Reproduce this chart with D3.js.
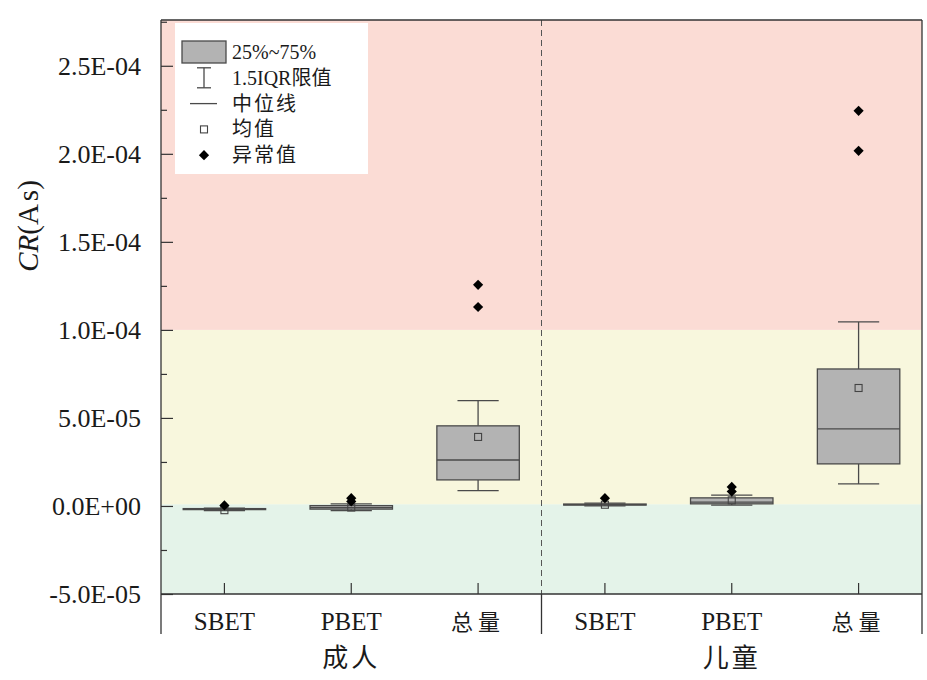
<!DOCTYPE html>
<html>
<head>
<meta charset="utf-8">
<script src="https://cdn.jsdelivr.net/npm/d3@7"></script>
<style>
  body { margin: 0; background: #fff; }
  svg text { fill: #1a1a1a; }
</style>
</head>
<body>
<svg id="chart" width="927" height="680"></svg>
<script>
// ---- data ----------------------------------------------------------------
const groups = ["成人", "儿童"];
const methods = ["SBET", "PBET", "总量"];

// one entry per box, order: 成人 SBET, PBET, 总量, 儿童 SBET, PBET, 总量
const whiskerLow  = [-2.6e-6, -2.6e-6, 8.7e-6,  0.1e-6, 0.5e-6, 1.25e-5];
const q1          = [-1.9e-6, -1.8e-6, 1.48e-5, 0.5e-6, 1.2e-6, 2.39e-5];
const median      = [-1.7e-6, -1.0e-6, 2.61e-5, 0.8e-6, 2.2e-6, 4.38e-5];
const q3          = [-1.5e-6,  0.2e-6, 4.55e-5, 1.1e-6, 4.6e-6, 7.78e-5];
const whiskerHigh = [-1.2e-6,  1.2e-6, 5.98e-5, 1.6e-6, 6.2e-6, 1.045e-4];
const mean        = [-2.4e-6, -0.9e-6, 3.92e-5, 0.7e-6, 3.2e-6, 6.70e-5];
const outliers    = [[0.3e-6], [2.6e-6, 4.4e-6], [1.13e-4, 1.256e-4],
                     [4.4e-6], [8.2e-6, 1.08e-5], [2.017e-4, 2.244e-4]];

// carcinogenic risk thresholds separating the shaded zones
const riskLevels = [1e-6, 1e-4];
const yTicks = [-5e-5, 0, 5e-5, 1e-4, 1.5e-4, 2e-4, 2.5e-4];
const yMax = 2.76e-4;

const legendLabels = ["25%~75%", "1.5IQR限值", "中位线", "均值", "异常值"];

// ---- layout --------------------------------------------------------------
const svg = d3.select("#chart");
const plotLeft = 161, plotRight = 922, plotTop = 20, plotBottom = 594, labelBottom = 634;
const serif = "'Liberation Serif','Times New Roman','DejaVu Serif',serif";
const cjk = "'Noto Sans CJK SC','Noto Sans CJK JP',sans-serif";
const frameColor = "#333";

const keys = [];
groups.forEach(g => methods.forEach(m => keys.push(g + "|" + m)));

const x = d3.scaleBand().domain(keys).range([plotLeft, plotRight]).padding(0);
const y = d3.scaleLinear().domain([yTicks[0], yMax]).range([plotBottom, plotTop]);
const boxW = x.bandwidth() * 0.65;
const capW = boxW / 2;
const cx = i => x(keys[i]) + x.bandwidth() / 2;

// ---- risk zones ----------------------------------------------------------
const zoneEdges = [yTicks[0], ...riskLevels, yMax];
const zoneColors = ["#e4f3e9", "#f8f7dd", "#fbdcd5"];
svg.append("g").selectAll("rect")
  .data(d3.range(zoneEdges.length - 1))
  .join("rect")
  .attr("x", plotLeft)
  .attr("width", plotRight - plotLeft)
  .attr("y", i => y(zoneEdges[i + 1]))
  .attr("height", i => y(zoneEdges[i]) - y(zoneEdges[i + 1]))
  .attr("fill", i => zoneColors[i]);

// dashed divider between the two groups
const groupSplit = x(keys[methods.length]);
svg.append("line")
  .attr("x1", groupSplit).attr("x2", groupSplit)
  .attr("y1", plotTop).attr("y2", plotBottom)
  .attr("stroke", "#555").attr("stroke-width", 1)
  .attr("stroke-dasharray", "6,4");

// ---- boxes ---------------------------------------------------------------
const boxStroke = "#4a4a4a";
const boxes = svg.append("g").selectAll("g")
  .data(d3.range(keys.length))
  .join("g");

// whisker stems
boxes.append("line")
  .attr("x1", cx).attr("x2", cx)
  .attr("y1", i => y(whiskerLow[i])).attr("y2", i => y(q1[i]))
  .attr("stroke", boxStroke).attr("stroke-width", 1.3);
boxes.append("line")
  .attr("x1", cx).attr("x2", cx)
  .attr("y1", i => y(q3[i])).attr("y2", i => y(whiskerHigh[i]))
  .attr("stroke", boxStroke).attr("stroke-width", 1.3);

// interquartile box
boxes.append("rect")
  .attr("x", i => cx(i) - boxW / 2)
  .attr("width", boxW)
  .attr("y", i => y(q3[i]))
  .attr("height", i => Math.max(1, y(q1[i]) - y(q3[i])))
  .attr("fill", "#b3b3b3")
  .attr("stroke", boxStroke).attr("stroke-width", 1.3);

// whisker caps
[whiskerLow, whiskerHigh].forEach(arr => {
  boxes.append("line")
    .attr("x1", i => cx(i) - capW / 2).attr("x2", i => cx(i) + capW / 2)
    .attr("y1", i => y(arr[i])).attr("y2", i => y(arr[i]))
    .attr("stroke", boxStroke).attr("stroke-width", 1.3);
});

// median line
boxes.append("line")
  .attr("x1", i => cx(i) - boxW / 2).attr("x2", i => cx(i) + boxW / 2)
  .attr("y1", i => y(median[i])).attr("y2", i => y(median[i]))
  .attr("stroke", boxStroke).attr("stroke-width", 1.3);

// mean marker
boxes.append("rect")
  .attr("x", i => cx(i) - 3.5).attr("y", i => y(mean[i]) - 3.5)
  .attr("width", 7).attr("height", 7)
  .attr("fill", "none")
  .attr("stroke", "#444").attr("stroke-width", 1.1);

// outliers
const diamond = d3.symbol().type(d3.symbolSquare).size(52);
boxes.selectAll("path")
  .data(i => outliers[i].map(v => ({ i, v })))
  .join("path")
  .attr("d", diamond)
  .attr("transform", d => `translate(${cx(d.i)},${y(d.v)}) rotate(45)`)
  .attr("fill", "#000");

// ---- axes & frame --------------------------------------------------------
function sci(v) {
  if (v === 0) return "0.0E+00";
  const e = Math.floor(Math.log10(Math.abs(v)) + 1e-9);
  const m = v / Math.pow(10, e);
  return m.toFixed(1) + "E" + (e < 0 ? "-" : "+") + String(Math.abs(e)).padStart(2, "0");
}

const yAxis = svg.append("g")
  .attr("transform", `translate(${plotLeft},0)`)
  .call(d3.axisLeft(y).tickValues(yTicks).tickFormat(sci)
    .tickSizeInner(-12).tickSizeOuter(0).tickPadding(20));
yAxis.attr("font-family", null).attr("font-size", null);
yAxis.select(".domain").remove();
yAxis.selectAll(".tick line").attr("stroke", frameColor).attr("stroke-width", 1.2);
yAxis.selectAll(".tick text")
  .style("font-family", serif).style("font-size", "26px").attr("fill", "#1a1a1a");

const minorTicks = yTicks.slice(0, -1).map((t, k) => (t + yTicks[k + 1]) / 2)
  .concat([yTicks[yTicks.length - 1] + (yTicks[1] - yTicks[0]) / 2])
  .filter(v => v < yMax);
const yMinor = svg.append("g")
  .attr("transform", `translate(${plotLeft},0)`)
  .call(d3.axisLeft(y).tickValues(minorTicks).tickFormat("")
    .tickSizeInner(-6).tickSizeOuter(0));
yMinor.select(".domain").remove();
yMinor.selectAll(".tick line").attr("stroke", frameColor).attr("stroke-width", 1.2);

const xAxis = svg.append("g")
  .attr("transform", `translate(0,${plotBottom})`)
  .call(d3.axisBottom(x).tickFormat("").tickSizeInner(-11).tickSizeOuter(0));
xAxis.select(".domain").remove();
xAxis.selectAll(".tick line").attr("stroke", frameColor).attr("stroke-width", 1.2);

// frame: plot border plus the lower label strip
const frame = svg.append("g").attr("stroke", frameColor).attr("stroke-width", 1.3).attr("fill", "none");
frame.append("line").attr("x1", plotLeft).attr("x2", plotRight).attr("y1", plotTop).attr("y2", plotTop);
frame.append("line").attr("x1", plotLeft).attr("x2", plotRight).attr("y1", plotBottom).attr("y2", plotBottom);
frame.append("line").attr("x1", plotLeft).attr("x2", plotLeft).attr("y1", plotTop).attr("y2", labelBottom);
frame.append("line").attr("x1", plotRight).attr("x2", plotRight).attr("y1", plotTop).attr("y2", labelBottom);
frame.append("line").attr("x1", groupSplit).attr("x2", groupSplit).attr("y1", plotBottom).attr("y2", labelBottom);

// category labels
const isLatin = k => /[A-Z]/.test(k.split("|")[1]);
svg.append("g").selectAll("text")
  .data(keys)
  .join("text")
  .attr("x", k => x(k) + x.bandwidth() / 2)
  .attr("y", 630)
  .attr("text-anchor", "middle")
  .style("font-family", k => isLatin(k) ? serif : cjk)
  .style("font-size", k => isLatin(k) ? "25px" : "22px")
  .style("letter-spacing", k => isLatin(k) ? "0px" : "5px")
  .attr("fill", k => isLatin(k) ? "#1a1a1a" : "#444")
  .text(k => k.split("|")[1]);

// group labels under the middle category of each group
svg.append("g").selectAll("text")
  .data(groups)
  .join("text")
  .attr("x", g => x(g + "|" + methods[1]) + x.bandwidth() / 2)
  .attr("y", 667)
  .attr("text-anchor", "middle")
  .style("font-family", cjk)
  .style("font-size", "26px")
  .style("letter-spacing", "3px")
  .text(g => g);

// y-axis title
const yTitle = svg.append("text")
  .attr("transform", "translate(38,226) rotate(-90)")
  .attr("text-anchor", "middle")
  .style("font-family", serif)
  .style("font-size", "29px");
yTitle.append("tspan").style("font-style", "italic").text("CR");
yTitle.append("tspan").text("(A");
yTitle.append("tspan").attr("dx", 3).text("s)");

// ---- legend --------------------------------------------------------------
const lg = svg.append("g");
lg.append("rect").attr("x", 175).attr("y", 23).attr("width", 193).attr("height", 151).attr("fill", "#fff");
const rowY = legendLabels.map((_, k) => 52 + k * 25.8);
const iconX = 204;
lg.append("rect").attr("x", 182).attr("y", rowY[0] - 11).attr("width", 44).attr("height", 22)
  .attr("fill", "#b3b3b3").attr("stroke", boxStroke).attr("stroke-width", 1.3);
lg.append("line").attr("x1", iconX).attr("x2", iconX).attr("y1", rowY[1] - 10).attr("y2", rowY[1] + 10)
  .attr("stroke", boxStroke).attr("stroke-width", 1.3);
[-10, 10].forEach(d => lg.append("line")
  .attr("x1", iconX - 7).attr("x2", iconX + 7).attr("y1", rowY[1] + d).attr("y2", rowY[1] + d)
  .attr("stroke", boxStroke).attr("stroke-width", 1.3));
lg.append("line").attr("x1", 190).attr("x2", 217).attr("y1", rowY[2]).attr("y2", rowY[2])
  .attr("stroke", boxStroke).attr("stroke-width", 1.3);
lg.append("rect").attr("x", iconX - 3.5).attr("y", rowY[3] - 3.5).attr("width", 7).attr("height", 7)
  .attr("fill", "none").attr("stroke", "#444").attr("stroke-width", 1.1);
lg.append("path").attr("d", diamond).attr("transform", `translate(${iconX},${rowY[4]}) rotate(45)`).attr("fill", "#000");

lg.selectAll("text.lbl")
  .data(legendLabels)
  .join("text")
  .attr("class", "lbl")
  .attr("x", 232)
  .attr("y", (d, k) => rowY[k] + 7)
  .style("font-family", `'Liberation Serif','Times New Roman','Noto Sans CJK SC',serif`)
  .style("font-size", "20px")
  .style("letter-spacing", (d, k) => k >= 2 ? "2px" : "0px")
  .text(d => d);
</script>
</body>
</html>
